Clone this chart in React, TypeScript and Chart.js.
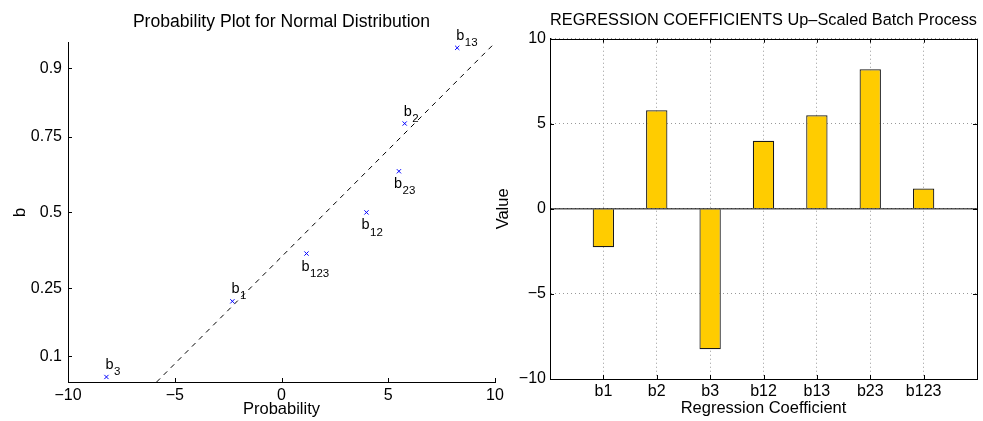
import React, { useEffect, useRef } from 'react';
import { Chart, registerables } from 'chart.js';
Chart.register(...registerables);

const FONT = '"Liberation Sans", Arial, Helvetica, sans-serif';

// ---- Left panel: normal probability plot ----
const probSubscripts = ['3', '1', '123', '12', '23', '2', '13'];
const probX = [-8.2, -2.3, 1.17, 3.98, 5.5, 5.77, 8.23];
const probP = [0.0714, 0.2143, 0.3571, 0.5, 0.6429, 0.7857, 0.9286];
const probTickLabels = [0.1, 0.25, 0.5, 0.75, 0.9];
const probXRange = [-10, 10];
const probYRange = [0.0655, 0.9345];
const fitX = [-5.85, 10];
const fitP = [0.0655, 0.9345];

// ---- Right panel: regression coefficients ----
const coefNames = ['b1', 'b2', 'b3', 'b12', 'b13', 'b23', 'b123'];
const coefValues = [-2.25, 5.8, -8.25, 4.0, 5.5, 8.2, 1.2];
const valueRange = [-10, 10];

function norminv(p: number): number {
  const a = [-3.969683028665376e1, 2.209460984245205e2, -2.759285104469687e2, 1.38357751867269e2, -3.066479806614716e1, 2.506628277459239];
  const b = [-5.447609879822406e1, 1.615858368580409e2, -1.556989798598866e2, 6.680131188771972e1, -1.328068155305418e1];
  const c = [-7.784894002430293e-3, -3.223964580411365e-1, -2.400758277161838, -2.549732539343734, 4.374664141464968, 2.938163982698783];
  const d = [7.784695709041462e-3, 3.224671290700398e-1, 2.445134137142996, 3.754408661907416];
  const plow = 0.02425;
  const phigh = 1 - plow;
  let q: number, r: number;
  if (p < plow) {
    q = Math.sqrt(-2 * Math.log(p));
    return (((((c[0] * q + c[1]) * q + c[2]) * q + c[3]) * q + c[4]) * q + c[5]) / ((((d[0] * q + d[1]) * q + d[2]) * q + d[3]) * q + 1);
  }
  if (p <= phigh) {
    q = p - 0.5;
    r = q * q;
    return ((((((a[0] * r + a[1]) * r + a[2]) * r + a[3]) * r + a[4]) * r + a[5]) * q) / (((((b[0] * r + b[1]) * r + b[2]) * r + b[3]) * r + b[4]) * r + 1);
  }
  q = Math.sqrt(-2 * Math.log(1 - p));
  return -(((((c[0] * q + c[1]) * q + c[2]) * q + c[3]) * q + c[4]) * q + c[5]) / ((((d[0] * q + d[1]) * q + d[2]) * q + d[3]) * q + 1);
}

const fmtNum = (v: number) => (v < 0 ? '\u2212' + Math.abs(v) : String(v));

function inwardTicks(chart: any, sides: string[], len: number) {
  const ctx = chart.ctx;
  const { left, right, top, bottom } = chart.chartArea;
  const xs = chart.scales.x;
  const ys = chart.scales.y;
  ctx.save();
  ctx.strokeStyle = '#000';
  ctx.lineWidth = 1;
  ctx.beginPath();
  xs.ticks.forEach((t: any) => {
    const px = Math.round(xs.getPixelForValue(t.value)) + 0.5;
    if (sides.includes('bottom')) { ctx.moveTo(px, bottom); ctx.lineTo(px, bottom - len); }
    if (sides.includes('top')) { ctx.moveTo(px, top); ctx.lineTo(px, top + len); }
  });
  ys.ticks.forEach((t: any) => {
    const py = Math.round(ys.getPixelForValue(t.value)) + 0.5;
    if (sides.includes('left')) { ctx.moveTo(left, py); ctx.lineTo(left + len, py); }
    if (sides.includes('right')) { ctx.moveTo(right, py); ctx.lineTo(right - len, py); }
  });
  ctx.stroke();
  ctx.restore();
}

function ProbPlot() {
  const ref = useRef<HTMLCanvasElement>(null);
  useEffect(() => {
    const fitZ = fitP.map(norminv);
    const labelPlugin = {
      id: 'probLabels',
      afterDatasetsDraw(chart: any) {
        const ctx = chart.ctx;
        const meta = chart.getDatasetMeta(0);
        ctx.save();
        ctx.fillStyle = '#000';
        ctx.textBaseline = 'middle';
        ctx.textAlign = 'left';
        meta.data.forEach((el: any, i: number) => {
          const x = probX[i];
          const z = norminv(probP[i]);
          const lineZ = fitZ[0] + ((x - fitX[0]) * (fitZ[1] - fitZ[0])) / (fitX[1] - fitX[0]);
          const above = z >= lineZ;
          const bx = above ? el.x - 1 : el.x - 5;
          const by = above ? el.y - 12 : el.y + 13;
          ctx.font = '14.5px ' + FONT;
          ctx.fillText('b', bx, by);
          const w = ctx.measureText('b').width;
          ctx.font = '11.5px ' + FONT;
          ctx.fillText(probSubscripts[i], bx + w + 0.5, by + 7);
        });
        ctx.restore();
      },
      afterDraw(chart: any) {
        inwardTicks(chart, ['left', 'bottom'], 4);
      },
    };
    const chart = new Chart(ref.current!, {
      type: 'scatter',
      data: {
        datasets: [
          {
            data: probX.map((x, i) => ({ x, y: norminv(probP[i]) })),
            pointStyle: 'crossRot',
            pointRadius: 3,
            borderColor: '#0000ff',
            backgroundColor: '#0000ff',
            borderWidth: 1,
          } as any,
          {
            type: 'line',
            data: fitX.map((x, i) => ({ x, y: norminv(fitP[i]) })),
            borderColor: '#000',
            borderWidth: 1,
            borderDash: [5, 5],
            pointRadius: 0,
            showLine: true,
            fill: false,
          } as any,
        ],
      },
      plugins: [labelPlugin],
      options: {
        animation: false,
        responsive: false,
        events: [],
        layout: { padding: { right: 25, left: 0, top: 0, bottom: 0 } },
        plugins: {
          legend: { display: false },
          tooltip: { enabled: false },
          title: {
            display: true,
            text: 'Probability Plot for Normal Distribution',
            color: '#000',
            font: { family: FONT, size: 17.6, weight: 'normal' },
            padding: { top: 11.4, bottom: 10.3 },
            fullSize: false,
          } as any,
        },
        scales: {
          x: {
            type: 'linear',
            min: probXRange[0],
            max: probXRange[1],
            ticks: {
              stepSize: 5,
              color: '#000',
              font: { family: FONT, size: 16 },
              padding: 4,
              callback: (v: any) => fmtNum(Number(v)),
              maxRotation: 0,
            },
            grid: { display: false, drawTicks: false },
            border: { display: true, color: '#000', width: 1 },
            title: {
              display: true,
              text: 'Probability',
              color: '#000',
              font: { family: FONT, size: 16.5 },
              padding: { top: 0, bottom: 1.5 },
            },
            afterFit: (s: any) => { s.height = 39; },
          },
          y: {
            type: 'linear',
            min: norminv(probYRange[0]),
            max: norminv(probYRange[1]),
            afterBuildTicks: (s: any) => {
              s.ticks = probTickLabels.map((p) => ({ value: norminv(p) }));
            },
            ticks: {
              color: '#000',
              font: { family: FONT, size: 16 },
              padding: 6,
              callback: (_v: any, i: number) => String(probTickLabels[i]),
            },
            grid: { display: false, drawTicks: false },
            border: { display: true, color: '#000', width: 1 },
            title: {
              display: true,
              text: 'b',
              color: '#000',
              font: { family: FONT, size: 16.5 },
              padding: { top: 11, bottom: 0 },
            },
            afterFit: (s: any) => { s.width = 68; },
          },
        },
      } as any,
    });
    return () => chart.destroy();
  }, []);
  return <canvas ref={ref} width={520} height={421} style={{ position: 'absolute', left: 0, top: 0, width: 520, height: 421 }} />;
}

function CoefBars() {
  const ref = useRef<HTMLCanvasElement>(null);
  useEffect(() => {
    const boxPlugin = {
      id: 'box',
      afterDraw(chart: any) {
        const ctx = chart.ctx;
        const { left, right, top, bottom } = chart.chartArea;
        ctx.save();
        ctx.strokeStyle = '#000';
        ctx.lineWidth = 1;
        ctx.strokeRect(Math.round(left) + 0.5, Math.round(top) + 0.5, Math.round(right - left), Math.round(bottom - top));
        ctx.restore();
        inwardTicks(chart, ['left', 'right', 'top', 'bottom'], 4);
      },
    };
    const chart = new Chart(ref.current!, {
      type: 'bar',
      data: {
        datasets: [
          {
            type: 'line',
            data: [{ x: 0, y: 0 }, { x: coefNames.length + 1, y: 0 }],
            borderColor: '#000',
            borderWidth: 1,
            pointRadius: 0,
            fill: false,
            order: 0,
          } as any,
          {
            type: 'bar',
            data: coefValues.map((v, i) => ({ x: i + 1, y: v })),
            backgroundColor: '#ffcc00',
            borderColor: '#1a1a1a',
            borderWidth: 1.2,
            barPercentage: 0.5,
            categoryPercentage: 0.8,
            order: 1,
          } as any,
        ],
      },
      plugins: [boxPlugin],
      options: {
        animation: false,
        responsive: false,
        events: [],
        layout: { padding: { right: 6, left: 0, top: 0, bottom: 0 } },
        plugins: {
          legend: { display: false },
          tooltip: { enabled: false },
          title: {
            display: true,
            text: 'REGRESSION COEFFICIENTS Up\u2013Scaled Batch Process',
            color: '#000',
            font: { family: FONT, size: 17.1, weight: 'normal' },
            padding: { top: 10.4, bottom: 7.8 },
            fullSize: false,
          } as any,
        },
        scales: {
          x: {
            type: 'linear',
            min: 0,
            max: coefNames.length + 1,
            offset: false,
            ticks: {
              stepSize: 1,
              color: '#000',
              font: { family: FONT, size: 16 },
              padding: 3,
              maxRotation: 0,
              autoSkip: false,
              callback: (v: any) => coefNames[Number(v) - 1] ?? '',
            },
            grid: { display: true, offset: false, drawTicks: false, color: '#999', lineWidth: 1 },
            border: { display: true, color: '#000', width: 1, dash: [1, 3] },
            title: {
              display: true,
              text: 'Regression Coefficient',
              color: '#000',
              font: { family: FONT, size: 16.5 },
              padding: { top: 0, bottom: 3 },
            },
            afterFit: (s: any) => { s.height = 42; },
          },
          y: {
            type: 'linear',
            min: valueRange[0],
            max: valueRange[1],
            ticks: {
              stepSize: 5,
              color: '#000',
              font: { family: FONT, size: 16 },
              padding: 4,
              callback: (v: any) => fmtNum(Number(v)),
            },
            grid: { display: true, drawTicks: false, color: '#999', lineWidth: 1 },
            border: { display: true, color: '#000', width: 1, dash: [1, 3] },
            title: {
              display: true,
              text: 'Value',
              color: '#000',
              font: { family: FONT, size: 16.5 },
              padding: { top: 4, bottom: 0 },
            },
            afterFit: (s: any) => { s.width = 60; },
          },
        },
      } as any,
    });
    return () => chart.destroy();
  }, []);
  return <canvas ref={ref} width={493} height={421} style={{ position: 'absolute', left: 490, top: 0, width: 493, height: 421 }} />;
}

export default function App() {
  return (
    <div style={{ position: 'fixed', left: 0, top: 0, width: 983, height: 421, background: '#fff' }}>
      <ProbPlot />
      <CoefBars />
    </div>
  );
}
